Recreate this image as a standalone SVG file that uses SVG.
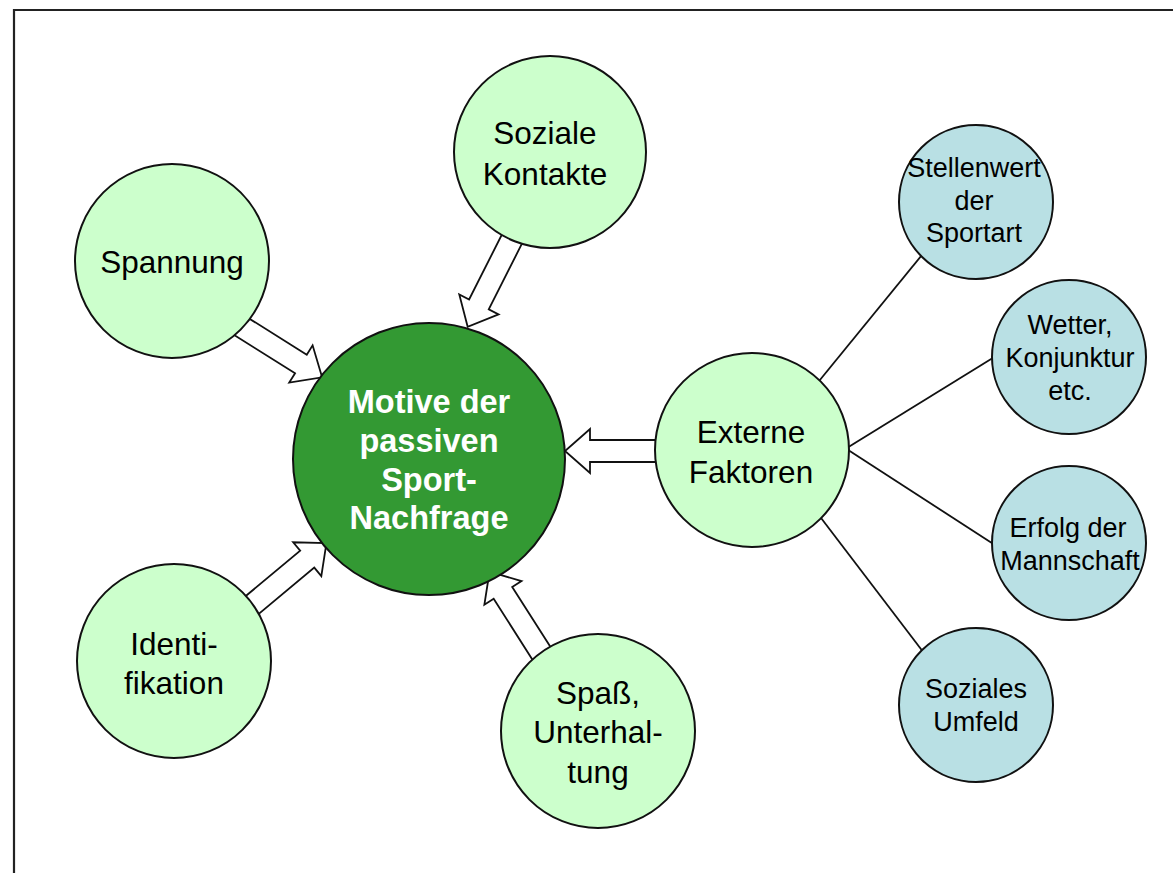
<svg xmlns="http://www.w3.org/2000/svg" width="1173" height="873" viewBox="0 0 1173 873">
<style>
.frame{stroke:#222;stroke-width:2.2;fill:none}
.motive{fill:#CCFFCC;stroke:#111;stroke-width:2}
.core{fill:#339933;stroke:#111;stroke-width:2}
.ext{fill:#B9E0E4;stroke:#111;stroke-width:2}
.arrow{fill:#fff;stroke:#111;stroke-width:1.8;stroke-linejoin:miter}
.link{stroke:#111;stroke-width:1.8;fill:none}
.t{font-family:"Liberation Sans",Arial,sans-serif;font-size:31.5px;fill:#000;text-anchor:middle}
.tc{font-family:"Liberation Sans",Arial,sans-serif;font-size:32.5px;font-weight:bold;fill:#fff;text-anchor:middle}
.ts{font-family:"Liberation Sans",Arial,sans-serif;font-size:27px;fill:#000;text-anchor:middle}
</style>
<rect width="1173" height="873" fill="#fff"/>
<path class="frame" d="M14,873 V10 H1173"/>
<g id="connectors">
<line class="link" x1="815" y1="386" x2="926" y2="250"/>
<line class="link" x1="842" y1="451" x2="996" y2="356"/>
<line class="link" x1="842" y1="446" x2="998" y2="547"/>
<line class="link" x1="818" y1="514" x2="927" y2="657"/>
<polygon class="arrow" transform="translate(234,322) rotate(32.1)" points="0,-11 79,-11 79,-22 104,0 79,22 79,11 0,11"/>
<polygon class="arrow" transform="translate(515,233) rotate(116.8)" points="0,-11 80,-11 80,-22 105,0 80,22 80,11 0,11"/>
<polygon class="arrow" transform="translate(665,451) rotate(180)" points="0,-11 75,-11 75,-22 100,0 75,22 75,11 0,11"/>
<polygon class="arrow" transform="translate(245,611) rotate(-39.8)" points="0,-11 81,-11 81,-22 106,0 81,22 81,11 0,11"/>
<polygon class="arrow" transform="translate(547,662) rotate(-122.5)" points="0,-11 82,-11 82,-22 107,0 82,22 82,11 0,11"/>
</g>
<g id="spannung">
<circle class="motive" cx="172" cy="261" r="97"/>
<text class="t" x="172" y="273">Spannung</text>
</g>
<g id="soziale-kontakte">
<circle class="motive" cx="550" cy="152" r="96"/>
<text class="t" x="545" y="144">Soziale</text>
<text class="t" x="545" y="185">Kontakte</text>
</g>
<g id="externe-faktoren">
<circle class="motive" cx="752" cy="450" r="97"/>
<text class="t" x="751" y="443">Externe</text>
<text class="t" x="751" y="483">Faktoren</text>
</g>
<g id="identifikation">
<circle class="motive" cx="174" cy="661" r="97"/>
<text class="t" x="174" y="655">Identi-</text>
<text class="t" x="174" y="694">fikation</text>
</g>
<g id="spass-unterhaltung">
<circle class="motive" cx="598" cy="731" r="97"/>
<text class="t" x="598" y="704">Spaß,</text>
<text class="t" x="598" y="743">Unterhal-</text>
<text class="t" x="598" y="783">tung</text>
</g>
<g id="motive-center">
<circle class="core" cx="429" cy="459" r="136"/>
<text class="tc" x="429" y="413">Motive der</text>
<text class="tc" x="429" y="452">passiven</text>
<text class="tc" x="429" y="491">Sport-</text>
<text class="tc" x="429" y="529">Nachfrage</text>
</g>
<g id="stellenwert">
<circle class="ext" cx="976" cy="202" r="77"/>
<text class="ts" x="974" y="177">Stellenwert</text>
<text class="ts" x="974" y="210">der</text>
<text class="ts" x="974" y="242">Sportart</text>
</g>
<g id="wetter">
<circle class="ext" cx="1069" cy="357" r="77"/>
<text class="ts" x="1070" y="334">Wetter,</text>
<text class="ts" x="1070" y="367">Konjunktur</text>
<text class="ts" x="1070" y="400">etc.</text>
</g>
<g id="erfolg">
<circle class="ext" cx="1069" cy="543" r="77"/>
<text class="ts" x="1068" y="537">Erfolg der</text>
<text class="ts" x="1070" y="570">Mannschaft</text>
</g>
<g id="soziales-umfeld">
<circle class="ext" cx="976" cy="705" r="77"/>
<text class="ts" x="976" y="698">Soziales</text>
<text class="ts" x="976" y="731">Umfeld</text>
</g>
</svg>
